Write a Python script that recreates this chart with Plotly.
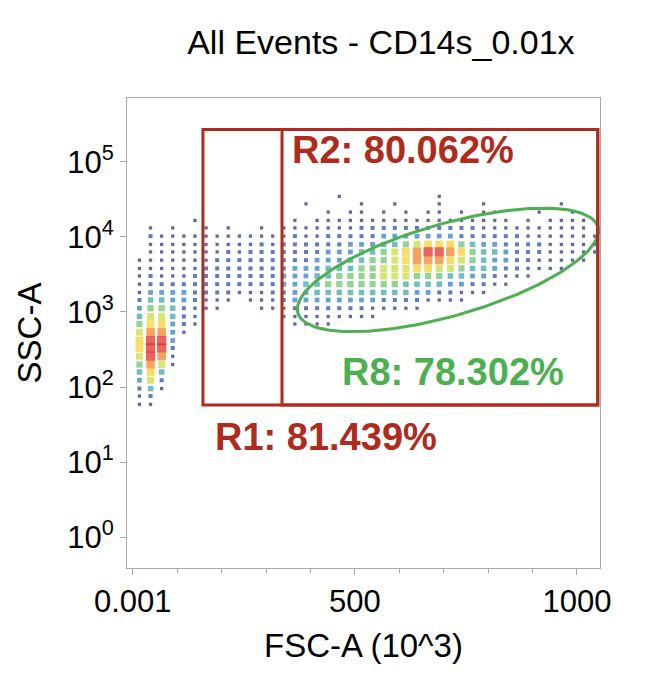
import numpy as np
import plotly.graph_objects as go

# density grid: one string per log10(SSC) row, one digit per FSC column (0 = no events)
x_step = 25
log_rows = [4.54, 4.44, 4.33, 4.22, 4.12, 4.01, 3.90, 3.80, 3.69, 3.58, 3.48, 3.37, 3.26, 3.16,
            3.05, 2.94, 2.84, 2.73, 2.62, 2.52, 2.41, 2.30, 2.20, 2.09, 1.98, 1.88, 1.77]
density = [
    "000000000000000000100000000100000000000000",
    "000000000000000100001001000100010000001000",
    "000000000000000001011010101101011000100100",
    "000001000000001011111111111111111101011110",
    "010100101001011111112222222222211111111110",
    "021111111111112112222233333332222221111111",
    "011111111112122222233344567775433222211111",
    "011111112122222223334456789987544322211111",
    "111111122222222233344556788876543322111110",
    "111111222222223334445566677665443221111000",
    "121112222222233344555566655544332111000000",
    "122222222222233445555555444433221100000000",
    "133332222111223344444444433221110000000000",
    "244332111011123333333322221111000000000000",
    "355421110001112222222111110000000000000000",
    "466421000000011111111100000000000000000000",
    "577321000000001111000000000000000000000000",
    "688310000000000000000000000000000000000000",
    "799300000000000000000000000000000000000000",
    "799200000000000000000000000000000000000000",
    "698100000000000000000000000000000000000000",
    "586100000000000000000000000000000000000000",
    "474000000000000000000000000000000000000000",
    "362000000000000000000000000000000000000000",
    "241000000000000000000000000000000000000000",
    "120000000000000000000000000000000000000000",
    "110000000000000000000000000000000000000000",
]

xs, ys, cs, ss = [], [], [], []
for ly, row in zip(log_rows, density):
    for i, ch in enumerate(row.ljust(42, "0")[:42]):
        if ch != "0":
            xs.append(i * x_step + 15)
            ys.append(10 ** ly)
            cs.append(int(ch))
            ss.append(2.5 + int(ch) * 0.75)

scale = [[0, "#1a2a6c"], [0.15, "#2448a8"], [0.3, "#2f8fc0"], [0.45, "#3fb27f"],
         [0.6, "#b8d83a"], [0.72, "#f5e02a"], [0.85, "#f5901e"], [1, "#e02418"]]

fig = go.Figure()
fig.add_trace(go.Scatter(x=xs, y=ys, mode="markers",
                         marker=dict(symbol="square", size=ss, color=cs, cmin=1, cmax=9,
                                     colorscale=scale, line=dict(width=0)),
                         hoverinfo="skip", showlegend=False))

# ellipse gate R8, defined in pixel-like units then mapped to data
def px_to_data(px, py):
    return (px - 133) / 0.444, 5 - (py - 162) / 75

t = np.linspace(0, 2 * np.pi, 200)
th = np.radians(16)
pxs = 448 + 156 * np.cos(t) * np.cos(th) - 46 * np.sin(t) * np.sin(th)
pys = 270 - (156 * np.cos(t) * np.sin(th) + 46 * np.sin(t) * np.cos(th))
ex, ely = px_to_data(pxs, pys)
fig.add_trace(go.Scatter(x=ex, y=10 ** ely, mode="lines",
                         line=dict(color="#4caf50", width=3), hoverinfo="skip", showlegend=False))

red = "#b02a1e"
fig.add_shape(type="rect", x0=158, x1=1047, y0=10 ** 1.76, y1=10 ** 5.43, line=dict(color=red, width=3))
fig.add_shape(type="rect", x0=336, x1=1047, y0=10 ** 1.76, y1=10 ** 5.43, line=dict(color=red, width=3))

fig.add_annotation(x=354, y=5.16, text="<b>R2: 80.062%</b>", showarrow=False, xanchor="left",
                   font=dict(size=38, color=red))
fig.add_annotation(x=466, y=2.2, text="<b>R8: 78.302%</b>", showarrow=False, xanchor="left",
                   font=dict(size=38, color="#4caf50"))
fig.add_annotation(x=180, y=1.33, text="<b>R1: 81.439%</b>", showarrow=False, xanchor="left",
                   font=dict(size=38, color=red))

fig.update_layout(
    width=660, height=696, plot_bgcolor="white", paper_bgcolor="white",
    margin=dict(l=119, r=68, t=90, b=136),
    font=dict(family="Liberation Sans, Arial", color="black"),
    title=dict(text="All Events - CD14s_0.01x", x=0.565, y=0.968, xanchor="center",
               font=dict(size=34)),
)
fig.update_xaxes(range=[-13, 1052], tickvals=[0, 500, 1000], ticktext=["0.001", "500", "1000"],
                 showline=True, mirror=True, linecolor="#aaaaaa", ticks="outside",
                 tickcolor="#aaaaaa", ticklen=6, showgrid=False, zeroline=False,
                 minor=dict(tickvals=[100, 200, 300, 400, 600, 700, 800, 900], ticks="outside",
                            ticklen=4, tickcolor="#aaaaaa"),
                 tickfont=dict(size=31), title=dict(text="FSC-A (10^3)", font=dict(size=33)))
fig.update_yaxes(type="log", range=[-0.41, 5.85], tickvals=[1, 10, 100, 1000, 10000, 100000],
                 ticktext=["10<sup>0</sup>", "10<sup>1</sup>", "10<sup>2</sup>",
                           "10<sup>3</sup>", "10<sup>4</sup>", "10<sup>5</sup>"],
                 showline=True, mirror=True, linecolor="#aaaaaa", ticks="outside",
                 tickcolor="#aaaaaa", ticklen=6, showgrid=False, zeroline=False,
                 tickfont=dict(size=31), title=dict(text="SSC-A", font=dict(size=33)))

fig.write_html("out.html")
